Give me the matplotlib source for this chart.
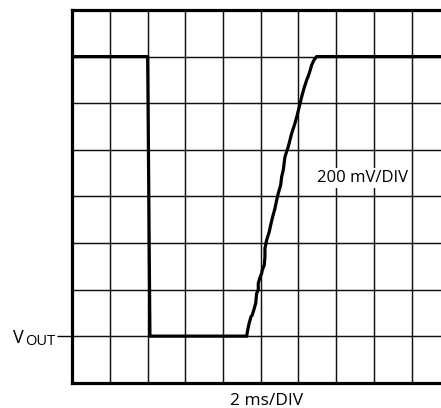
import matplotlib
matplotlib.use("Agg")
import matplotlib.pyplot as plt

plt.rcParams['font.family'] = ['Open Sans', 'DejaVu Sans']

# scope trace in divisions (x: 2 ms/div, y: 200 mV/div)
low_level = 1.0
high_level = 7.0
fall_t = [2.0, 2.06]
ramp_t = [4.626, 4.653, 4.687, 4.740, 4.775, 4.828, 4.865, 4.891, 4.934, 4.934,
          4.971, 5.024, 5.040, 5.093, 5.111, 5.111, 5.156, 5.225, 5.263, 5.316,
          5.377, 5.422, 5.464, 5.528, 5.554, 5.597, 5.642, 5.729, 5.820, 5.907,
          5.968, 6.021, 6.085, 6.146, 6.218, 6.286, 6.350, 6.411, 6.483]
ramp_v = [1.0, 1.131, 1.260, 1.416, 1.453, 1.597, 1.704, 1.918, 1.989, 2.133,
          2.240, 2.348, 2.418, 2.526, 2.704, 2.884, 3.062, 3.240, 3.384, 3.562,
          3.742, 3.921, 4.064, 4.242, 4.421, 4.564, 4.850, 5.064, 5.352, 5.567,
          5.745, 5.923, 6.137, 6.318, 6.496, 6.639, 6.818, 6.925, 7.0]
n_xdiv = 10
n_ydiv = 8

t = [0.0] + fall_t + ramp_t + [n_xdiv]
v = [high_level, high_level, low_level] + ramp_v + [high_level]

fig = plt.figure(figsize=(4.41, 4.08), dpi=100)
ax = fig.add_axes([0.1639, 0.062, 0.836, 0.9135])
ax.set_xlim(0, 9.78)
ax.set_ylim(0, n_ydiv)

for i in range(1, n_xdiv):
    ax.axvline(i, color='#111111', lw=1.05, zorder=1)
for j in range(1, n_ydiv):
    ax.axhline(j, color='#111111', lw=1.05, zorder=1)

ax.plot(t, v, color='black', lw=2.3, zorder=3, solid_joinstyle='miter')

for side in ['left', 'top', 'bottom']:
    ax.spines[side].set_linewidth(2.3)
ax.spines['right'].set_visible(False)

ax.set_xticks([])
ax.set_yticks([low_level])
ax.set_yticklabels([''])
ax.tick_params(axis='y', length=10.8, width=1.0, direction='out')

ax.text(-1.57, 0.86, 'V', fontsize=13, ha='left', va='baseline', clip_on=False)
ax.text(-1.25, 0.81, 'OUT', fontsize=10.5, ha='left', va='baseline', clip_on=False)

ax.text(6.49, 4.31, '200 mV/DIV', fontsize=12, ha='left', va='baseline', zorder=2,
        bbox=dict(facecolor='white', edgecolor='none', pad=1.5))
ax.text(5.16, -0.48, '2 ms/DIV', fontsize=12.5, ha='center', va='baseline', clip_on=False)

fig.savefig('out.png', dpi=100)
